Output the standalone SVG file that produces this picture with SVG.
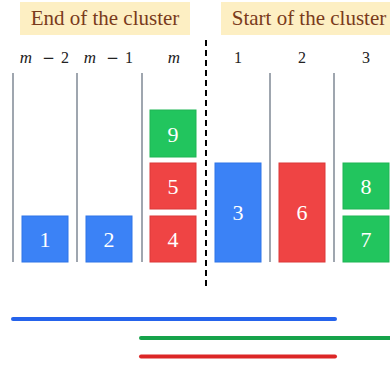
<svg xmlns="http://www.w3.org/2000/svg" width="390" height="365" viewBox="0 0 390 365">
<style>
.hdr{fill:#fdefc3}
.hdrt{font-family:'Liberation Serif','Times New Roman','DejaVu Serif',serif;font-size:21px;fill:#7a3b1b;text-anchor:middle}
.col{font-family:'Liberation Serif','Times New Roman','DejaVu Serif',serif;font-size:16px;fill:#222;text-anchor:middle}
.it{font-style:italic;font-size:17px}
.mi{font-family:'DejaVu Serif',serif;font-size:15px}
.sep{stroke:#5f6b7a;stroke-width:1.2}
.b{fill:#3b82f6;stroke:#2f74e8;stroke-width:1}
.r{fill:#ef4444;stroke:#dc3838;stroke-width:1}
.g{fill:#22c55e;stroke:#1fb554;stroke-width:1}
.n{font-family:'Liberation Serif','Times New Roman','DejaVu Serif',serif;font-size:22px;fill:#fff;text-anchor:middle}
.ln{stroke-width:4;stroke-linecap:round;fill:none}
</style>
<g id="header-end"><rect class="hdr" x="20" y="2" width="170" height="33"/><text class="hdrt" x="105" y="25">End of the cluster</text></g>
<g id="header-start"><rect class="hdr" x="221" y="2" width="169" height="33"/><text class="hdrt" x="309" y="25">Start of the cluster</text></g>
<g id="col-labels">
<text class="col" y="63"><tspan class="it" x="26">m</tspan><tspan class="mi" x="48.5">−</tspan><tspan x="65">2</tspan></text>
<text class="col" y="63"><tspan class="it" x="90">m</tspan><tspan class="mi" x="112.5">−</tspan><tspan x="129">1</tspan></text>
<text class="col it" x="174" y="63">m</text>
<text class="col" x="238" y="63">1</text>
<text class="col" x="302" y="63">2</text>
<text class="col" x="366" y="63">3</text>
</g>
<g id="separators">
<line class="sep" x1="13" y1="73" x2="13" y2="262"/>
<line class="sep" x1="77" y1="73" x2="77" y2="262"/>
<line class="sep" x1="142" y1="73" x2="142" y2="262"/>
<line class="sep" x1="270" y1="73" x2="270" y2="262"/>
<line class="sep" x1="334" y1="73" x2="334" y2="262"/>
<line x1="206" y1="40" x2="206" y2="290" stroke="#000" stroke-width="2" stroke-dasharray="6,4"/>
</g>
<g id="n1"><rect class="b" x="22" y="216" width="46" height="46"/><text class="n" x="45" y="247">1</text></g>
<g id="n2"><rect class="b" x="86" y="216" width="46" height="46"/><text class="n" x="109" y="247">2</text></g>
<g id="n4"><rect class="r" x="150" y="216" width="46" height="46"/><text class="n" x="173" y="247">4</text></g>
<g id="n5"><rect class="r" x="150" y="163" width="46" height="46"/><text class="n" x="173" y="194">5</text></g>
<g id="n9"><rect class="g" x="150" y="110" width="46" height="47"/><text class="n" x="173" y="142">9</text></g>
<g id="n3"><rect class="b" x="215" y="163" width="46" height="99"/><text class="n" x="238" y="220">3</text></g>
<g id="n6"><rect class="r" x="279" y="163" width="46" height="99"/><text class="n" x="302" y="220">6</text></g>
<g id="n8"><rect class="g" x="343" y="163" width="46" height="46"/><text class="n" x="366" y="194">8</text></g>
<g id="n7"><rect class="g" x="343" y="216" width="46" height="46"/><text class="n" x="366" y="247">7</text></g>
<g id="connectors">
<line class="ln" x1="13" y1="319" x2="335" y2="319" stroke="#2563eb"/>
<line class="ln" x1="141" y1="338" x2="392" y2="338" stroke="#16a34a"/>
<line class="ln" x1="141" y1="356.5" x2="335" y2="356.5" stroke="#dc2626"/>
</g>
</svg>
